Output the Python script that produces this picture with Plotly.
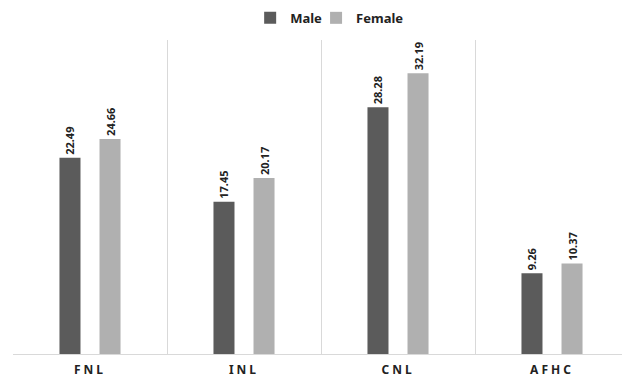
import plotly.graph_objects as go

categories = ["FNL", "INL", "CNL", "AFHC"]
male = [22.49, 17.45, 28.28, 9.26]
female = [24.66, 20.17, 32.19, 10.37]

font_family = "Noto Sans, Open Sans, sans-serif"
label_font = dict(family=font_family, size=11, color="#222222", weight="bold")
legend_font = dict(family=font_family, size=13, color="#222222", weight="bold")

fig = go.Figure()
fig.add_trace(go.Bar(
    x=categories, y=male, name="Male", legend="legend",
    marker=dict(color="#5b5b5b", line=dict(width=0)),
    text=[f"{v:.2f}" for v in male], textposition="outside", textangle=-90,
    textfont=label_font, constraintext="none", cliponaxis=False,
))
fig.add_trace(go.Bar(
    x=categories, y=female, name="Female", legend="legend2",
    marker=dict(color="#b0b0b0", line=dict(width=0)),
    text=[f"{v:.2f}" for v in female], textposition="outside", textangle=-90,
    textfont=label_font, constraintext="none", cliponaxis=False,
))

# page body has an 8px default margin; compensate in the figure margins
fig.update_layout(
    width=630, height=380,
    margin=dict(l=5, r=9, t=32, b=34, autoexpand=False),
    paper_bgcolor="white", plot_bgcolor="white",
    barmode="group", bargap=0.48, bargroupgap=0.475,
    showlegend=True,
    legend=dict(orientation="h", x=0.385, xanchor="left", y=0.974, yref="container", yanchor="middle",
                font=legend_font, itemwidth=30, bgcolor="rgba(0,0,0,0)"),
    legend2=dict(orientation="h", x=0.492, xanchor="left", y=0.974, yref="container", yanchor="middle",
                 font=legend_font, itemwidth=30, bgcolor="rgba(0,0,0,0)"),
    font=dict(family=font_family),
)
fig.update_xaxes(
    type="category", tickson="boundaries", showgrid=True, gridcolor="#d9d9d9", gridwidth=1,
    showline=True, linecolor="#d9d9d9", ticks="", ticklabelstandoff=5,
    tickfont=dict(family=font_family, size=12, color="#222222", weight="bold"),
)
fig.update_yaxes(range=[0, 36], showgrid=False, showticklabels=False, zeroline=False, showline=False)

post = """
document.querySelectorAll('.xtick text').forEach(function(t){
  t.style.letterSpacing='3px';
});
"""
fig.write_html("out.html", post_script=post)
